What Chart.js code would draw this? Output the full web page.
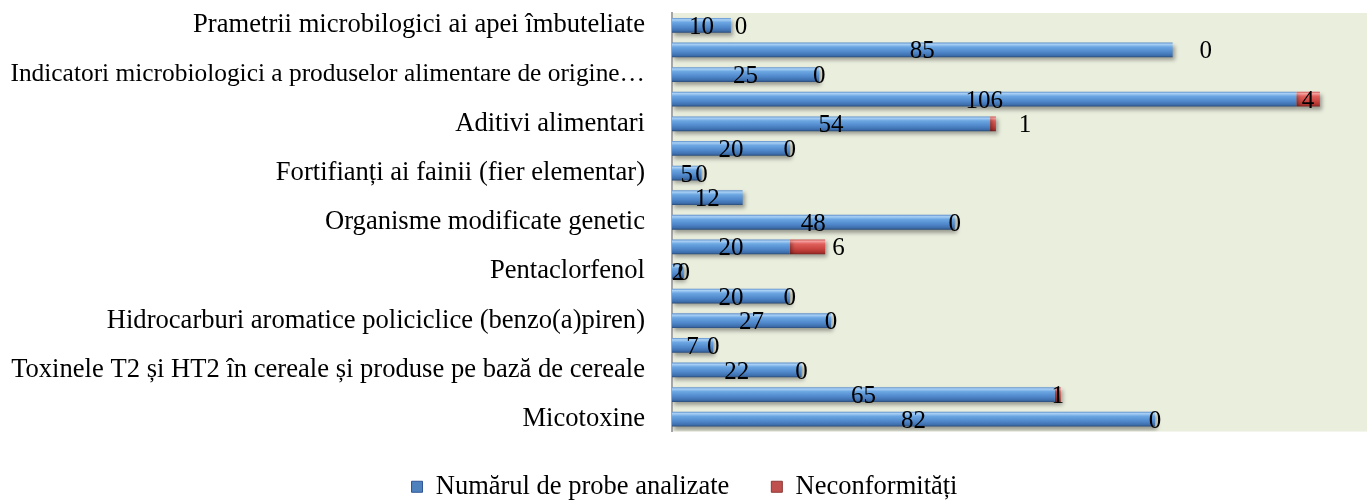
<!DOCTYPE html>
<html>
<head>
<meta charset="utf-8">
<script src="https://cdn.jsdelivr.net/npm/chart.js@4/dist/chart.umd.min.js"></script>
<style>
  body { margin: 0; background: #ffffff; }
</style>
</head>
<body>
<canvas id="chart" width="1367" height="500"></canvas>
<script>
// categories top -> bottom, only every other label was printed in the original
const categories = [
    'Prametrii microbilogici ai apei îmbuteliate',
    '',
    'Indicatori microbiologici a produselor alimentare de origine…',
    '',
    'Aditivi alimentari',
    '',
    'Fortifianți ai fainii (fier elementar)',
    '',
    'Organisme modificate genetic',
    '',
    'Pentaclorfenol',
    '',
    'Hidrocarburi aromatice policiclice (benzo(a)piren)',
    '',
    'Toxinele T2 și HT2 în cereale și produse pe bază de cereale',
    '',
    'Micotoxine'
];
const probeAnalizate = [10, 85, 25, 106, 54, 20, 5, 12, 48, 20, 2, 20, 27, 7, 22, 65, 82];
const neconformitati = [0, 0, 0, 4, 1, 0, 0, null, 0, 6, 0, 0, 0, 0, 0, 1, 0];
const seriesNames = ['Numărul de probe analizate', 'Neconformități'];

const serif = "'Liberation Serif', 'Times New Roman', serif";
const barPct = 0.6;

// bevel-like vertical gradient, built per bar from the y scale
function barFill(stops, solid) {
    return function (c) {
        if (c.type !== 'data') return solid;
        const y = c.chart.scales.y;
        if (!y || !y.height) return solid;
        const mid = y.getPixelForValue(c.dataIndex);
        const half = (y.height / categories.length) * barPct / 2;
        const g = c.chart.ctx.createLinearGradient(0, mid - half, 0, mid + half);
        stops.forEach(s => g.addColorStop(s[0], s[1]));
        return g;
    };
}

const blueStops = [[0, '#5C8FCB'], [0.12, '#A9D0F5'], [0.3, '#6BA6E2'], [0.65, '#4F87CA'], [0.88, '#3D6EAC'], [1, '#2A4B78']];
const redStops = [[0, '#C65451'], [0.12, '#F5A19E'], [0.3, '#E0605C'], [0.65, '#C8443F'], [0.88, '#A9322E'], [1, '#7A2220']];
const legendColors = [['#4F81BD', '#2F5597'], ['#C0504D', '#8C3836']];

const plotBackground = {
    id: 'plotBackground',
    beforeDraw(chart) {
        const a = chart.chartArea;
        chart.ctx.save();
        chart.ctx.fillStyle = '#EAEEDD';
        chart.ctx.fillRect(a.left, a.top, a.right - a.left, a.bottom - a.top);
        chart.ctx.restore();
    }
};

// soft drop shadow under the bars, then the value labels
const barExtras = {
    id: 'barExtras',
    beforeDatasetsDraw(chart) {
        const ctx = chart.ctx;
        ctx.save();
        ctx.shadowColor = 'rgba(0,0,0,0.35)';
        ctx.shadowBlur = 4;
        ctx.shadowOffsetX = 2;
        ctx.shadowOffsetY = 3;
    },
    afterDatasetsDraw(chart, args, opts) {
        const ctx = chart.ctx;
        ctx.restore();
        ctx.save();
        ctx.font = opts.font;
        ctx.fillStyle = '#000000';
        ctx.textAlign = 'center';
        ctx.textBaseline = 'middle';
        chart.data.datasets.forEach((ds, di) => {
            const meta = chart.getDatasetMeta(di);
            meta.data.forEach((el, i) => {
                const v = ds.data[i];
                if (v === null || v === undefined) return;
                let x = (el.base + el.x) / 2;
                if (di === 1 && opts.shift[i]) x += opts.shift[i];
                ctx.fillText(String(v), x, el.y + 2);
            });
        });
        ctx.restore();
    }
};

new Chart(document.getElementById('chart'), {
    type: 'bar',
    data: {
        labels: categories,
        datasets: [{
            label: seriesNames[0],
            data: probeAnalizate,
            backgroundColor: barFill(blueStops, legendColors[0][0]),
            borderWidth: 0
        }, {
            label: seriesNames[1],
            data: neconformitati,
            backgroundColor: barFill(redStops, legendColors[1][0]),
            borderWidth: 0
        }]
    },
    options: {
        indexAxis: 'y',
        responsive: false,
        animation: false,
        layout: {
            padding: { left: 2, top: 13, right: 0, bottom: -10 }
        },
        datasets: {
            bar: {
                barPercentage: barPct,
                categoryPercentage: 1
            }
        },
        plugins: {
            legend: {
                position: 'bottom',
                labels: {
                    font: { family: serif, size: 26.5 },
                    color: '#000000',
                    boxWidth: 11,
                    boxHeight: 11,
                    padding: 42,
                    generateLabels(chart) {
                        const items = Chart.defaults.plugins.legend.labels.generateLabels(chart);
                        items.forEach((it, i) => {
                            it.fillStyle = legendColors[i][0];
                            it.strokeStyle = legendColors[i][1];
                            it.lineWidth = 1;
                        });
                        return items;
                    }
                }
            },
            tooltip: { enabled: false },
            barExtras: {
                font: "25px " + serif,
                shift: { 0: 10, 1: 33, 4: 32, 9: 31 } // labels moved aside in the original
            }
        },
        scales: {
            x: {
                stacked: true,
                min: 0,
                max: 118,
                grid: { display: false },
                border: { display: false },
                ticks: { display: false },
                afterFit(scale) { scale.height = 0; }
            },
            y: {
                stacked: true,
                grid: { display: false },
                border: { display: true, color: '#A6A6A6', width: 2 },
                ticks: {
                    autoSkip: false,
                    padding: 19,
                    color: '#000000',
                    font: (c) => ({ family: serif, size: c.index === 2 ? 25.4 : 26.6 })
                },
                afterFit(scale) {
                    scale.width = 670;
                    scale.paddingTop = 0;
                    scale.paddingBottom = 0;
                }
            }
        }
    },
    plugins: [plotBackground, barExtras]
});
</script>
</body>
</html>
